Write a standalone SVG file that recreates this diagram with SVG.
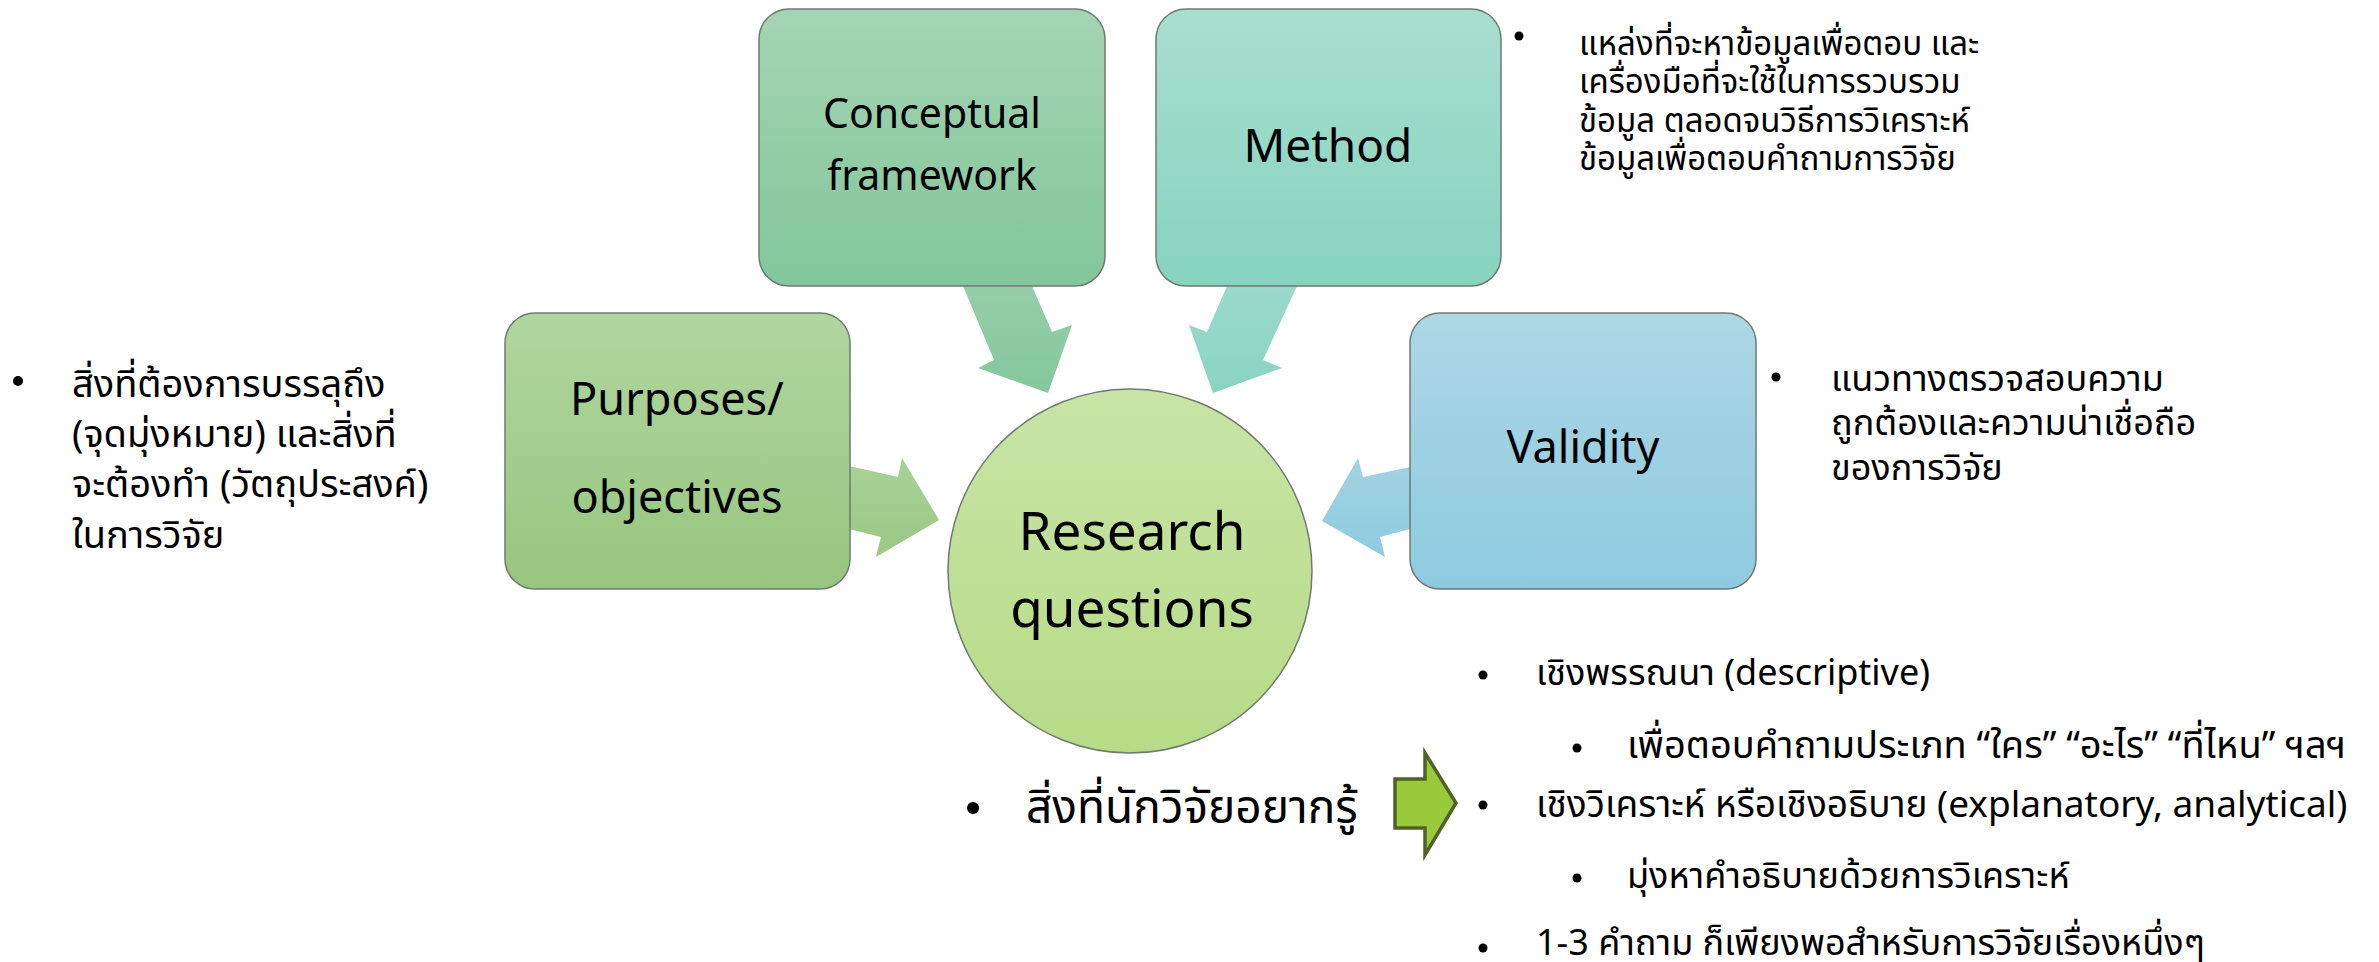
<svg xmlns="http://www.w3.org/2000/svg" width="2379" height="962" viewBox="0 0 2379 962">
<defs>
<linearGradient id="gC" x1="0" y1="0" x2="0" y2="1"><stop offset="0" stop-color="#a4d4b4"/><stop offset="1" stop-color="#82c69c"/></linearGradient>
<linearGradient id="gM" x1="0" y1="0" x2="0" y2="1"><stop offset="0" stop-color="#a9decf"/><stop offset="1" stop-color="#86d3bf"/></linearGradient>
<linearGradient id="gP" x1="0" y1="0" x2="0" y2="1"><stop offset="0" stop-color="#b1d5a0"/><stop offset="1" stop-color="#97c67f"/></linearGradient>
<linearGradient id="gV" x1="0" y1="0" x2="0" y2="1"><stop offset="0" stop-color="#add7e5"/><stop offset="1" stop-color="#8ecadf"/></linearGradient>
<linearGradient id="gR" x1="0" y1="0" x2="0" y2="1"><stop offset="0" stop-color="#c9e4a6"/><stop offset="1" stop-color="#b7db87"/></linearGradient>
<linearGradient id="aC" x1="0" y1="0" x2="0" y2="1"><stop offset="0" stop-color="#96ceaa"/><stop offset="1" stop-color="#84c79d"/></linearGradient>
<linearGradient id="aM" x1="0" y1="0" x2="0" y2="1"><stop offset="0" stop-color="#9cdacb"/><stop offset="1" stop-color="#88d4c0"/></linearGradient>
<linearGradient id="aP" x1="0" y1="0" x2="0" y2="1"><stop offset="0" stop-color="#a8d197"/><stop offset="1" stop-color="#9ac885"/></linearGradient>
<linearGradient id="aV" x1="0" y1="0" x2="0" y2="1"><stop offset="0" stop-color="#a2d3e3"/><stop offset="1" stop-color="#8ecbe0"/></linearGradient>
</defs>
<style>
.box{stroke:#6f7a70;stroke-width:1.5}
.lbl{font-family:"Noto Sans","Open Sans","DejaVu Sans",sans-serif;fill:#000;text-anchor:middle}
.th{font-family:"Noto Sans Thai","Noto Sans","DejaVu Sans",sans-serif;fill:#000}
.bul{fill:#000}
</style>
<rect width="2379" height="962" fill="#fff"/>
<g id="connectors">
<polygon fill="url(#aC)" points="963,286 1032,286 1052,332 1072,325 1048,393 978,368 994,360"/>
<polygon fill="url(#aM)" points="1227,286 1297,286 1263,360 1282,368 1213,393 1189,325 1207,332"/>
<polygon fill="url(#aP)" points="849,466 898,477 902,458 939,520 876,557 881,537 849,529"/>
<polygon fill="url(#aV)" points="1410,467 1363,477 1358,458 1322,521 1385,557 1380,537 1410,529"/>
<polygon fill="#9aca3c" stroke="#4f6228" stroke-width="3.5" stroke-linejoin="miter" points="1395,779 1425,779 1425,753 1456,803 1425,855 1425,828 1395,828"/>
</g>
<g id="node-conceptual">
<rect class="box" x="759" y="9" width="346" height="277" rx="30" fill="url(#gC)"/>
<text class="lbl" x="932" y="128" font-size="41">Conceptual</text>
<text class="lbl" x="932" y="190" font-size="41">framework</text>
</g>
<g id="node-method">
<rect class="box" x="1156" y="9" width="345" height="277" rx="30" fill="url(#gM)"/>
<text class="lbl" x="1328" y="162" font-size="46">Method</text>
</g>
<g id="node-purposes">
<rect class="box" x="505" y="313" width="345" height="276" rx="30" fill="url(#gP)"/>
<text class="lbl" x="677" y="415" font-size="45">Purposes/</text>
<text class="lbl" x="677" y="513" font-size="45">objectives</text>
</g>
<g id="node-validity">
<rect class="box" x="1410" y="313" width="346" height="276" rx="30" fill="url(#gV)"/>
<text class="lbl" x="1583" y="463" font-size="45">Validity</text>
</g>
<g id="node-research">
<circle class="box" cx="1130" cy="571" r="182" fill="url(#gR)"/>
<text class="lbl" x="1132" y="550" font-size="53">Research</text>
<text class="lbl" x="1132" y="627" font-size="53">questions</text>
</g>
<g id="note-method">
<circle class="bul" cx="1519" cy="36" r="4.5"/>
<text class="th" font-size="33"><tspan x="1579" y="55">แหล่งที่จะหาข้อมูลเพื่อตอบ และ</tspan><tspan x="1579" y="93">เครื่องมือที่จะใช้ในการรวบรวม</tspan><tspan x="1579" y="132">ข้อมูล ตลอดจนวิธีการวิเคราะห์</tspan><tspan x="1579" y="170">ข้อมูลเพื่อตอบคำถามการวิจัย</tspan></text>
</g>
<g id="note-purposes">
<circle class="bul" cx="18" cy="381" r="5"/>
<text class="th" font-size="38"><tspan x="72" y="397">สิ่งที่ต้องการบรรลุถึง</tspan><tspan x="72" y="447">(จุดมุ่งหมาย) และสิ่งที่</tspan><tspan x="72" y="497">จะต้องทำ (วัตถุประสงค์)</tspan><tspan x="72" y="548">ในการวิจัย</tspan></text>
</g>
<g id="note-validity">
<circle class="bul" cx="1776" cy="377" r="4.5"/>
<text class="th" font-size="36"><tspan x="1831" y="391">แนวทางตรวจสอบความ</tspan><tspan x="1831" y="435">ถูกต้องและความน่าเชื่อถือ</tspan><tspan x="1831" y="480">ของการวิจัย</tspan></text>
</g>
<g id="note-research">
<circle class="bul" cx="973" cy="808" r="6"/>
<text class="th" font-size="46" x="1026" y="823">สิ่งที่นักวิจัยอยากรู้</text>
</g>
<g id="note-types">
<circle class="bul" cx="1483" cy="675" r="4.5"/>
<text class="th" font-size="36" x="1536" y="685">เชิงพรรณนา (descriptive)</text>
<circle class="bul" cx="1577" cy="748" r="4.5"/>
<text class="th" font-size="38" x="1627" y="758">เพื่อตอบคำถามประเภท “ใคร” “อะไร” “ที่ไหน” ฯลฯ</text>
<circle class="bul" cx="1483" cy="805" r="4.5"/>
<text class="th" font-size="37" x="1536" y="817">เชิงวิเคราะห์ หรือเชิงอธิบาย (explanatory, analytical)</text>
<circle class="bul" cx="1577" cy="878" r="4.5"/>
<text class="th" font-size="36" x="1627" y="888">มุ่งหาคำอธิบายด้วยการวิเคราะห์</text>
<circle class="bul" cx="1483" cy="948" r="4.5"/>
<text class="th" font-size="36" x="1536" y="955">1-3 คำถาม ก็เพียงพอสำหรับการวิจัยเรื่องหนึ่งๆ</text>
</g>
</svg>
